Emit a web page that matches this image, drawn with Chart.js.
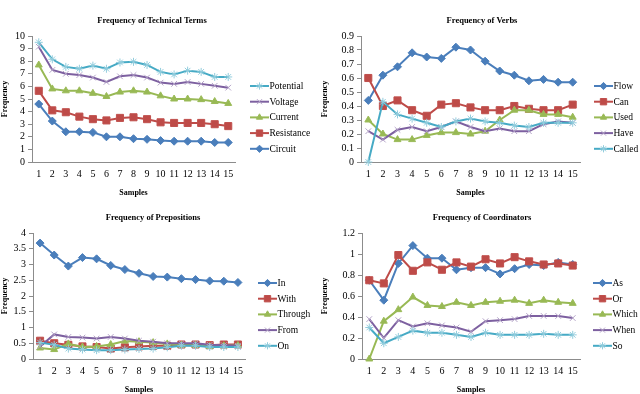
<!DOCTYPE html>
<html>
<head>
<meta charset="utf-8">
<script src="https://cdn.jsdelivr.net/npm/chart.js@4/dist/chart.umd.min.js"></script>
<style>
  body { margin: 0; background: #fff; }
  #wrap { position: relative; width: 640px; height: 394px; }
  canvas { position: absolute; }
</style>
</head>
<body>
<div id="wrap">
  <canvas id="c1" width="320" height="197" style="left:0;top:0"></canvas>
  <canvas id="c2" width="320" height="197" style="left:320px;top:0"></canvas>
  <canvas id="c3" width="320" height="197" style="left:0;top:197px"></canvas>
  <canvas id="c4" width="320" height="197" style="left:320px;top:197px"></canvas>
</div>
<script>
const samples = ["1", "2", "3", "4", "5", "6", "7", "8", "9", "10", "11", "12", "13", "14", "15"];

// technical terms
const techNames = ["Potential", "Voltage", "Current", "Resistance", "Circuit"];
const techPotential = [9.5, 8.15, 7.55, 7.4, 7.65, 7.4, 7.9, 7.95, 7.7, 7.15, 6.95, 7.25, 7.15, 6.75, 6.75];
const techVoltage = [9.15, 7.3, 7.0, 6.9, 6.7, 6.35, 6.8, 6.9, 6.7, 6.3, 6.2, 6.35, 6.2, 6.05, 5.9];
const techCurrent = [7.7, 5.8, 5.65, 5.65, 5.45, 5.2, 5.55, 5.65, 5.55, 5.25, 5.0, 5.0, 4.95, 4.8, 4.65];
const techResistance = [5.65, 4.1, 3.95, 3.6, 3.4, 3.3, 3.5, 3.55, 3.4, 3.15, 3.1, 3.1, 3.1, 3.0, 2.85];
const techCircuit = [4.6, 3.25, 2.4, 2.4, 2.35, 2.0, 2.0, 1.85, 1.8, 1.7, 1.65, 1.65, 1.65, 1.55, 1.55];

// verbs
const verbNames = ["Flow", "Can", "Used", "Have", "Called"];
const verbFlow = [0.44, 0.62, 0.68, 0.78, 0.75, 0.74, 0.82, 0.80, 0.72, 0.65, 0.62, 0.58, 0.59, 0.57, 0.57];
const verbCan = [0.60, 0.40, 0.44, 0.37, 0.33, 0.41, 0.42, 0.39, 0.37, 0.37, 0.40, 0.38, 0.37, 0.37, 0.41];
const verbUsed = [0.30, 0.20, 0.16, 0.16, 0.19, 0.21, 0.21, 0.20, 0.22, 0.30, 0.37, 0.37, 0.34, 0.34, 0.32];
const verbHave = [0.22, 0.16, 0.23, 0.25, 0.22, 0.25, 0.29, 0.25, 0.22, 0.24, 0.22, 0.22, 0.27, 0.29, 0.28];
const verbCalled = [0.0, 0.43, 0.34, 0.31, 0.28, 0.25, 0.29, 0.31, 0.29, 0.28, 0.26, 0.25, 0.28, 0.28, 0.28];

// prepositions
const prepNames = ["In", "With", "Through", "From", "On"];
const prepIn = [3.68, 3.3, 2.95, 3.22, 3.18, 2.97, 2.84, 2.72, 2.62, 2.6, 2.55, 2.52, 2.48, 2.47, 2.43];
const prepWith = [0.58, 0.5, 0.45, 0.4, 0.38, 0.33, 0.37, 0.4, 0.42, 0.42, 0.46, 0.46, 0.44, 0.46, 0.46];
const prepThrough = [0.35, 0.3, 0.48, 0.38, 0.4, 0.46, 0.57, 0.55, 0.52, 0.48, 0.44, 0.44, 0.4, 0.42, 0.43];
const prepFrom = [0.4, 0.78, 0.7, 0.68, 0.65, 0.7, 0.65, 0.58, 0.55, 0.5, 0.5, 0.5, 0.45, 0.44, 0.42];
const prepOn = [0.52, 0.45, 0.33, 0.3, 0.28, 0.28, 0.3, 0.32, 0.33, 0.37, 0.42, 0.42, 0.38, 0.38, 0.38];

// coordinators
const coordNames = ["As", "Or", "Which", "When", "So"];
const coordAs = [0.75, 0.56, 0.91, 1.08, 0.96, 0.96, 0.85, 0.87, 0.87, 0.81, 0.86, 0.9, 0.89, 0.92, 0.9];
const coordOr = [0.75, 0.72, 0.99, 0.84, 0.92, 0.85, 0.92, 0.88, 0.95, 0.91, 0.97, 0.93, 0.9, 0.91, 0.89];
const coordWhich = [0.0, 0.36, 0.47, 0.59, 0.51, 0.5, 0.54, 0.51, 0.54, 0.55, 0.56, 0.53, 0.56, 0.54, 0.53];
const coordWhen = [0.38, 0.2, 0.37, 0.31, 0.34, 0.32, 0.3, 0.26, 0.36, 0.37, 0.38, 0.41, 0.41, 0.41, 0.39];
const coordSo = [0.3, 0.15, 0.21, 0.27, 0.25, 0.25, 0.23, 0.21, 0.25, 0.23, 0.23, 0.23, 0.24, 0.23, 0.23];

// excel-ish series styles
const BLUE = { line: "#4A7EBB", fill: "#4A7EBB", edge: "#4A7EBB", point: "rectRot", r: 4 };
const RED = { line: "#BE4B48", fill: "#BE4B48", edge: "#C0504D", point: "rect", r: 5 };
const GREEN = { line: "#98B954", fill: "#98B954", edge: "#9BBB59", point: "triangle", r: 4 };
const PURPLE = { line: "#7D60A0", fill: "#7D60A0", edge: "#B3A2C7", point: "crossRot", r: 4 };
const CYAN = { line: "#46AAC5", fill: "#46AAC5", edge: "#93CDDD", point: "star", r: 4 };

const FONT = "'Liberation Serif', 'Times New Roman', serif";

const panels = [
  { id: "c1", title: "Frequency of Technical Terms", names: techNames,
    values: [techPotential, techVoltage, techCurrent, techResistance, techCircuit],
    styles: [CYAN, PURPLE, GREEN, RED, BLUE],
    yMax: 10, yStep: 1, left: 32, right: 235, titleX: 152, legendX: 250 },
  { id: "c2", title: "Frequency of Verbs", names: verbNames,
    values: [verbFlow, verbCan, verbUsed, verbHave, verbCalled],
    styles: [BLUE, RED, GREEN, PURPLE, CYAN],
    yMax: 0.9, yStep: 0.1, left: 41, right: 260, titleX: 162, legendX: 274 },
  { id: "c3", title: "Frequency of Prepositions", names: prepNames,
    values: [prepIn, prepWith, prepThrough, prepFrom, prepOn],
    styles: [BLUE, RED, GREEN, PURPLE, CYAN],
    yMax: 4, yStep: 0.5, left: 33, right: 245, titleX: 153, legendX: 258 },
  { id: "c4", title: "Frequency of Coordinators", names: coordNames,
    values: [coordAs, coordOr, coordWhich, coordWhen, coordSo],
    styles: [BLUE, RED, GREEN, PURPLE, CYAN],
    yMax: 1.2, yStep: 0.2, left: 42, right: 260, titleX: 162, legendX: 273 },
];

// title + legend drawn by hand so they sit where excel put them
const sideBits = {
  id: "sideBits",
  afterDraw(chart, args, opts) {
    const ctx = chart.ctx;
    ctx.save();
    ctx.fillStyle = "#000";
    ctx.font = "bold 8.5px " + FONT;
    ctx.textAlign = "center";
    ctx.textBaseline = "middle";
    ctx.fillText(opts.title, opts.titleX, 21);

    ctx.font = "9.5px " + FONT;
    ctx.textAlign = "left";
    chart.data.datasets.forEach((ds, i) => {
      const y = 86 + i * 15.7;
      const x = opts.legendX;
      ctx.strokeStyle = ds.borderColor;
      ctx.lineWidth = 2;
      ctx.beginPath();
      ctx.moveTo(x, y);
      ctx.lineTo(x + 19, y);
      ctx.stroke();
      ctx.fillStyle = ds.pointBackgroundColor;
      ctx.strokeStyle = ds.pointBorderColor;
      ctx.lineWidth = 1;
      Chart.helpers.drawPoint(ctx, { pointStyle: ds.pointStyle, radius: ds.pointRadius * 0.9, rotation: 0, borderWidth: 1 }, x + 9.5, y);
      ctx.fillStyle = "#000";
      ctx.fillText(ds.label, x + 19.5, y + 0.5);
    });
    ctx.restore();
  }
};

panels.forEach(p => {
  const datasets = p.names.map((name, i) => ({
    label: name,
    data: p.values[i],
    borderColor: p.styles[i].line,
    borderWidth: 2,
    pointStyle: p.styles[i].point,
    pointRadius: p.styles[i].r,
    pointBackgroundColor: p.styles[i].fill,
    pointBorderColor: p.styles[i].edge,
    pointBorderWidth: 1,
    tension: 0,
    clip: false,
    order: p.names.length - i,
  }));

  new Chart(document.getElementById(p.id), {
    type: "line",
    data: { labels: samples, datasets: datasets },
    options: {
      responsive: false,
      animation: false,
      layout: { padding: { top: 36, right: 320 - p.right, left: 0, bottom: 0 } },
      plugins: {
        legend: { display: false },
        tooltip: { enabled: false },
        sideBits: { title: p.title, titleX: p.titleX, legendX: p.legendX },
      },
      scales: {
        x: {
          offset: true,
          grid: { display: false, drawTicks: false },
          border: { display: true, color: "#8C8C8C", width: 1 },
          ticks: { color: "#000", font: { family: FONT, size: 10 }, padding: 6, maxRotation: 0, autoSkip: false },
          title: { display: true, text: "Samples", color: "#000", font: { family: FONT, size: 8, weight: "bold" }, padding: { top: 0, bottom: -1 } },
          afterFit: s => { s.height = 35; },
        },
        y: {
          min: 0,
          max: p.yMax,
          grid: { display: true, drawOnChartArea: false, drawTicks: true, tickLength: 4, color: "#8C8C8C" },
          border: { display: true, color: "#8C8C8C", width: 1 },
          ticks: {
            count: Math.round(p.yMax / p.yStep) + 1,
            autoSkip: false,
            color: "#000",
            font: { family: FONT, size: 10 },
            padding: 3,
            callback: v => String(Math.round(v * 10) / 10),
          },
          title: { display: true, text: "Frequency", color: "#000", font: { family: FONT, size: 8, weight: "bold" }, padding: 0 },
          afterFit: s => { s.width = p.left; },
        },
      },
    },
    plugins: [sideBits],
  });
});
</script>
</body>
</html>
